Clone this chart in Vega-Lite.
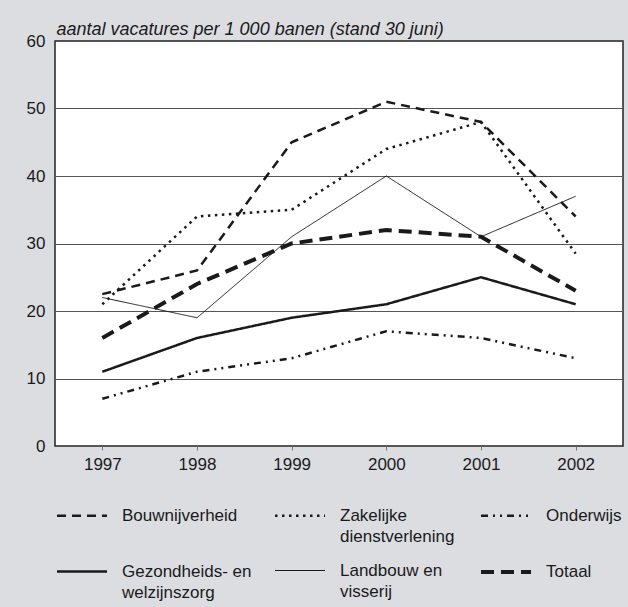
{
  "$schema": "https://vega.github.io/schema/vega-lite/v6.json",
  "width": 568,
  "height": 405,
  "autosize": {"type": "none"},
  "padding": {"left": 55, "top": 41, "right": 5, "bottom": 161},
  "background": "#dcdde1",
  "config": {
    "font": "Liberation Sans, Arial, sans-serif",
    "view": {"stroke": "#222222", "strokeWidth": 1.5, "fill": "#ffffff"}
  },
  "data": {
    "values": [
      {"jaar": "1997", "sector": "Bouwnijverheid", "waarde": 22.5},
      {"jaar": "1998", "sector": "Bouwnijverheid", "waarde": 26},
      {"jaar": "1999", "sector": "Bouwnijverheid", "waarde": 45},
      {"jaar": "2000", "sector": "Bouwnijverheid", "waarde": 51},
      {"jaar": "2001", "sector": "Bouwnijverheid", "waarde": 48},
      {"jaar": "2002", "sector": "Bouwnijverheid", "waarde": 34},
      {"jaar": "1997", "sector": "Zakelijke dienstverlening", "waarde": 21},
      {"jaar": "1998", "sector": "Zakelijke dienstverlening", "waarde": 34},
      {"jaar": "1999", "sector": "Zakelijke dienstverlening", "waarde": 35},
      {"jaar": "2000", "sector": "Zakelijke dienstverlening", "waarde": 44},
      {"jaar": "2001", "sector": "Zakelijke dienstverlening", "waarde": 48},
      {"jaar": "2002", "sector": "Zakelijke dienstverlening", "waarde": 28.5},
      {"jaar": "1997", "sector": "Onderwijs", "waarde": 7},
      {"jaar": "1998", "sector": "Onderwijs", "waarde": 11},
      {"jaar": "1999", "sector": "Onderwijs", "waarde": 13},
      {"jaar": "2000", "sector": "Onderwijs", "waarde": 17},
      {"jaar": "2001", "sector": "Onderwijs", "waarde": 16},
      {"jaar": "2002", "sector": "Onderwijs", "waarde": 13},
      {"jaar": "1997", "sector": "Gezondheids- en welzijnszorg", "waarde": 11},
      {"jaar": "1998", "sector": "Gezondheids- en welzijnszorg", "waarde": 16},
      {"jaar": "1999", "sector": "Gezondheids- en welzijnszorg", "waarde": 19},
      {"jaar": "2000", "sector": "Gezondheids- en welzijnszorg", "waarde": 21},
      {"jaar": "2001", "sector": "Gezondheids- en welzijnszorg", "waarde": 25},
      {"jaar": "2002", "sector": "Gezondheids- en welzijnszorg", "waarde": 21},
      {"jaar": "1997", "sector": "Landbouw en visserij", "waarde": 22},
      {"jaar": "1998", "sector": "Landbouw en visserij", "waarde": 19},
      {"jaar": "1999", "sector": "Landbouw en visserij", "waarde": 31},
      {"jaar": "2000", "sector": "Landbouw en visserij", "waarde": 40},
      {"jaar": "2001", "sector": "Landbouw en visserij", "waarde": 31},
      {"jaar": "2002", "sector": "Landbouw en visserij", "waarde": 37},
      {"jaar": "1997", "sector": "Totaal", "waarde": 16},
      {"jaar": "1998", "sector": "Totaal", "waarde": 24},
      {"jaar": "1999", "sector": "Totaal", "waarde": 30},
      {"jaar": "2000", "sector": "Totaal", "waarde": 32},
      {"jaar": "2001", "sector": "Totaal", "waarde": 31},
      {"jaar": "2002", "sector": "Totaal", "waarde": 23}
    ]
  },
  "mark": {"type": "line", "color": "#1a1a1a", "strokeCap": "butt", "strokeJoin": "miter"},
  "encoding": {
    "x": {
      "field": "jaar",
      "type": "ordinal",
      "scale": {"type": "point", "padding": 0.5},
      "axis": {
        "title": null,
        "labelAngle": 0,
        "domain": false,
        "tickSize": 4,
        "tickColor": "#777777",
        "labelPadding": 6,
        "labelFontSize": 17,
        "labelColor": "#1a1a1a"
      }
    },
    "y": {
      "field": "waarde",
      "type": "quantitative",
      "scale": {"domain": [0, 60], "nice": false},
      "axis": {
        "values": [0, 10, 20, 30, 40, 50, 60],
        "title": "aantal vacatures per 1 000 banen (stand 30 juni)",
        "titleAngle": 0,
        "titleX": 1,
        "titleY": -7,
        "titleAlign": "left",
        "titleBaseline": "alphabetic",
        "titleFontStyle": "italic",
        "titleFontWeight": "normal",
        "titleFontSize": 18,
        "titleColor": "#1a1a1a",
        "domain": false,
        "ticks": false,
        "labelPadding": 10,
        "labelFontSize": 17,
        "labelColor": "#1a1a1a",
        "grid": true,
        "gridColor": "#555555",
        "gridWidth": 1
      }
    },
    "strokeDash": {
      "field": "sector",
      "type": "nominal",
      "scale": {
        "domain": ["Bouwnijverheid", "Zakelijke dienstverlening", "Onderwijs", "Gezondheids- en welzijnszorg", "Landbouw en visserij", "Totaal"],
        "range": [[9, 6], [2.5, 4.5], [7, 5, 2, 5, 2, 5], [1, 0], [1, 0], [13, 7]]
      },
      "legend": {
        "title": null,
        "orient": "none",
        "legendX": 0,
        "legendY": 448,
        "direction": "horizontal",
        "columns": 3,
        "columnPadding": 18,
        "rowPadding": 0,
        "padding": 0,
        "symbolType": "stroke",
        "symbolSize": 2500,
        "symbolStrokeColor": "#1a1a1a",
        "labelFontSize": 17,
        "labelColor": "#1a1a1a",
        "labelOffset": 13,
        "labelLimit": 300,
        "labelBaseline": "alphabetic",
        "labelExpr": "datum.label == 'Zakelijke dienstverlening' ? ['Zakelijke', 'dienstverlening'] : datum.label == 'Gezondheids- en welzijnszorg' ? ['Gezondheids- en\u00a0\u00a0', 'welzijnszorg'] : datum.label == 'Landbouw en visserij' ? ['Landbouw en', 'visserij'] : [datum.label, ' ']",
        "encode": {"labels": {"update": {"dy": {"value": 5}, "lineHeight": {"value": 21}}}}
      }
    },
    "strokeWidth": {
      "field": "sector",
      "type": "nominal",
      "scale": {
        "type": "ordinal",
        "domain": ["Bouwnijverheid", "Zakelijke dienstverlening", "Onderwijs", "Gezondheids- en welzijnszorg", "Landbouw en visserij", "Totaal"],
        "range": [2.5, 2.5, 2.5, 2.5, 1, 4]
      },
      "legend": null
    }
  }
}
